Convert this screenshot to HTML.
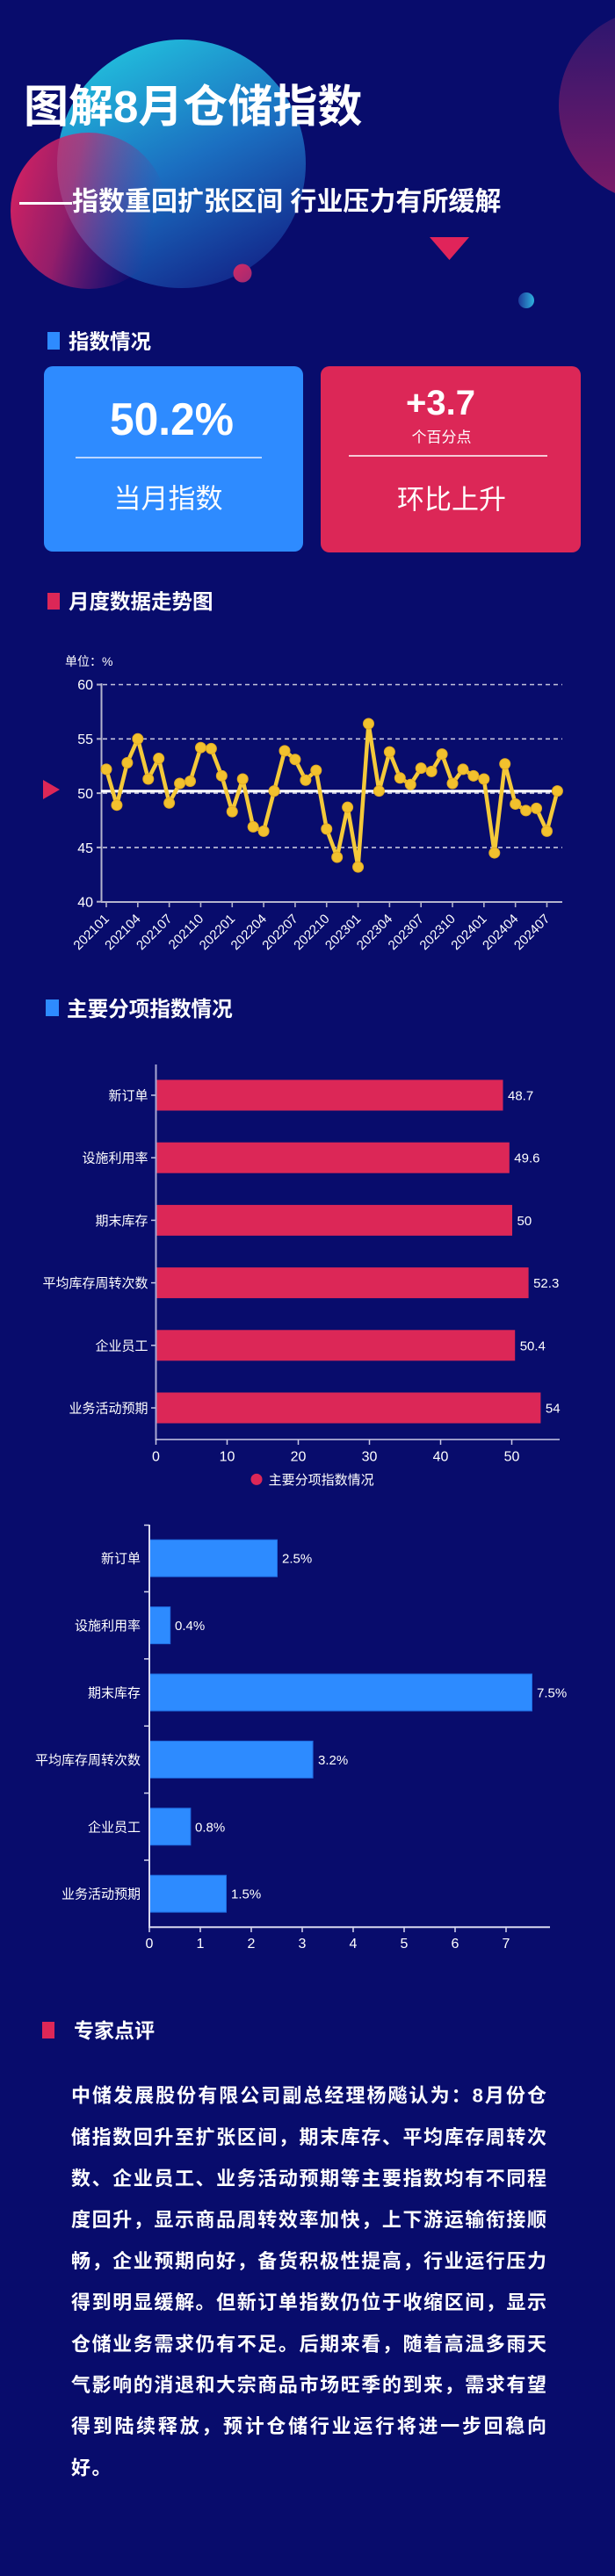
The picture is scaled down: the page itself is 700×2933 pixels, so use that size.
<!DOCTYPE html>
<html lang="zh">
<head>
<meta charset="utf-8">
<style>
  html,body{margin:0;padding:0;background:#080c6c;}
  body{width:700px;height:2933px;overflow:hidden;position:relative;}
  svg{position:absolute;left:0;top:0;display:block;}
  text{font-family:"Liberation Sans","Noto Sans CJK SC",sans-serif;fill:#fff;}
  .b{font-weight:bold;}
</style>
</head>
<body>
<svg width="700" height="2933" viewBox="0 0 700 2933" xmlns="http://www.w3.org/2000/svg">
  <defs>
    <linearGradient id="gc" x1="0.25" y1="0" x2="0.75" y2="1">
      <stop offset="0" stop-color="#22c0dd"/>
      <stop offset="0.5" stop-color="#1b6fc1"/>
      <stop offset="1" stop-color="#122488"/>
    </linearGradient>
    <linearGradient id="gp" x1="0" y1="0" x2="1" y2="0.25">
      <stop offset="0" stop-color="#de2260" stop-opacity="1"/>
      <stop offset="0.45" stop-color="#c8246a" stop-opacity="0.72"/>
      <stop offset="1" stop-color="#7a1e84" stop-opacity="0"/>
    </linearGradient>
    <linearGradient id="gr" x1="0" y1="0" x2="0" y2="1">
      <stop offset="0" stop-color="#2a166f"/>
      <stop offset="1" stop-color="#7c1a67"/>
    </linearGradient>
    <linearGradient id="gb" x1="0" y1="0" x2="1" y2="0">
      <stop offset="0" stop-color="#1c3a9a"/>
      <stop offset="1" stop-color="#2fb2de"/>
    </linearGradient>
    <linearGradient id="gs" x1="0" y1="0" x2="1" y2="1">
      <stop offset="0" stop-color="#d02a66"/>
      <stop offset="1" stop-color="#a02a72"/>
    </linearGradient>
  </defs>

  <rect x="0" y="0" width="700" height="2933" fill="#080c6c"/>

  <!-- decorations -->
  <circle cx="746" cy="120" r="110" fill="url(#gr)"/>
  <circle cx="206.5" cy="186.5" r="141.5" fill="url(#gc)"/>
  <circle cx="101" cy="240" r="89" fill="url(#gp)"/>
  <circle cx="276" cy="311" r="10.5" fill="url(#gs)"/>
  <polygon points="489,270 534,270 511.5,296" fill="#e0245a"/>
  <circle cx="599" cy="342" r="9" fill="url(#gb)"/>

  <!-- title -->
  <text class="b" x="27" y="139" font-size="51">图解8月仓储指数</text>
  <text class="b" x="22" y="239.5" font-size="30">——指数重回扩张区间 行业压力有所缓解</text>

  <!-- section: 指数情况 -->
  <rect x="54" y="378" width="14" height="20" fill="#2e8bff"/>
  <text class="b" x="78" y="397" font-size="23.5">指数情况</text>

  <rect x="50" y="417" width="295" height="211" rx="10" ry="10" fill="#2e8bff"/>
  <rect x="365" y="417" width="296" height="212" rx="10" ry="10" fill="#dc2757"/>

  <text class="b" x="125" y="495" font-size="52" textLength="141" lengthAdjust="spacingAndGlyphs">50.2%</text>
  <line x1="86" y1="521" x2="298" y2="521" stroke="#e8f0ff" stroke-width="1.5"/>
  <text x="191.5" y="578.5" font-size="31" text-anchor="middle">当月指数</text>

  <text class="b" x="501.5" y="472" font-size="40" text-anchor="middle">+3.7</text>
  <text x="502.5" y="503.5" font-size="17" text-anchor="middle">个百分点</text>
  <line x1="397" y1="519" x2="623" y2="519" stroke="#ffffff" stroke-width="1.5"/>
  <text x="514" y="579.5" font-size="31" text-anchor="middle">环比上升</text>

  <!-- section: 月度数据走势图 -->
  <rect x="54" y="675" width="14" height="19" fill="#dc2757"/>
  <text class="b" x="78" y="693" font-size="23.5">月度数据走势图</text>

  <!-- line chart -->
  <text x="74" y="758" font-size="14">单位：%</text>
  <g font-size="16" text-anchor="end">
    <text x="106" y="785">60</text>
    <text x="106" y="847">55</text>
    <text x="106" y="909">50</text>
    <text x="106" y="971">45</text>
    <text x="106" y="1032.5">40</text>
  </g>
  <g stroke="#c4c4dc" stroke-width="1.6" stroke-dasharray="5 4">
    <line x1="117" y1="779.5" x2="640" y2="779.5"/>
    <line x1="117" y1="841.3" x2="640" y2="841.3"/>
    <line x1="117" y1="903.1" x2="640" y2="903.1"/>
    <line x1="117" y1="964.9" x2="640" y2="964.9"/>
  </g>
  <g stroke="#b4b4cc" stroke-width="2">
    <line x1="115.5" y1="778" x2="115.5" y2="1027"/>
    <line x1="115" y1="1027" x2="640" y2="1027"/>
    <line x1="110" y1="779.5" x2="115" y2="779.5"/>
    <line x1="110" y1="841.3" x2="115" y2="841.3"/>
    <line x1="110" y1="903.1" x2="115" y2="903.1"/>
    <line x1="110" y1="964.9" x2="115" y2="964.9"/>
    <line x1="110" y1="1026.7" x2="115" y2="1026.7"/>
  </g>
  <g stroke="#b4b4cc" stroke-width="1.6">
    <line x1="121" y1="1027" x2="121" y2="1033"/>
    <line x1="156.82" y1="1027" x2="156.82" y2="1033"/>
    <line x1="192.64" y1="1027" x2="192.64" y2="1033"/>
    <line x1="228.46" y1="1027" x2="228.46" y2="1033"/>
    <line x1="264.28" y1="1027" x2="264.28" y2="1033"/>
    <line x1="300.1" y1="1027" x2="300.1" y2="1033"/>
    <line x1="335.92" y1="1027" x2="335.92" y2="1033"/>
    <line x1="371.74" y1="1027" x2="371.74" y2="1033"/>
    <line x1="407.56" y1="1027" x2="407.56" y2="1033"/>
    <line x1="443.38" y1="1027" x2="443.38" y2="1033"/>
    <line x1="479.2" y1="1027" x2="479.2" y2="1033"/>
    <line x1="515.02" y1="1027" x2="515.02" y2="1033"/>
    <line x1="550.84" y1="1027" x2="550.84" y2="1033"/>
    <line x1="586.66" y1="1027" x2="586.66" y2="1033"/>
    <line x1="622.48" y1="1027" x2="622.48" y2="1033"/>
  </g>
  <g font-size="15" text-anchor="end">
    <text transform="translate(125,1047) rotate(-45)">202101</text>
    <text transform="translate(160.82,1047) rotate(-45)">202104</text>
    <text transform="translate(196.64,1047) rotate(-45)">202107</text>
    <text transform="translate(232.46,1047) rotate(-45)">202110</text>
    <text transform="translate(268.28,1047) rotate(-45)">202201</text>
    <text transform="translate(304.1,1047) rotate(-45)">202204</text>
    <text transform="translate(339.92,1047) rotate(-45)">202207</text>
    <text transform="translate(375.74,1047) rotate(-45)">202210</text>
    <text transform="translate(411.56,1047) rotate(-45)">202301</text>
    <text transform="translate(447.38,1047) rotate(-45)">202304</text>
    <text transform="translate(483.2,1047) rotate(-45)">202307</text>
    <text transform="translate(519.02,1047) rotate(-45)">202310</text>
    <text transform="translate(554.84,1047) rotate(-45)">202401</text>
    <text transform="translate(590.66,1047) rotate(-45)">202404</text>
    <text transform="translate(626.48,1047) rotate(-45)">202407</text>
  </g>
  <line x1="115" y1="900.8" x2="640" y2="900.8" stroke="#ffffff" stroke-width="3.2"/>
  <polygon points="49,888 68,899 49,910" fill="#dc2757"/>
  <polyline fill="none" stroke="#f4c93a" stroke-width="4.5" stroke-linejoin="round" points="121,875.91 132.94,916.7 144.88,868.49 156.82,841.3 168.76,887.03 180.7,863.55 192.64,914.22 204.58,891.98 216.52,889.5 228.46,851.19 240.4,852.42 252.34,883.32 264.28,924.11 276.22,887.03 288.16,941.42 300.1,946.36 312.04,900.63 323.98,854.9 335.92,864.78 347.86,888.27 359.8,877.14 371.74,943.89 383.68,976.02 395.62,919.17 407.56,987.15 419.5,824 431.44,900.63 443.38,856.13 455.32,885.8 467.26,893.21 479.2,874.67 491.14,878.38 503.08,858.6 515.02,891.98 526.96,875.91 538.9,883.32 550.84,887.03 562.78,971.08 574.72,869.73 586.66,915.46 598.6,922.88 610.54,920.4 622.48,946.36 634.42,900.63"/>
  <g fill="#f2c12e" stroke="#e2aa22" stroke-width="1">
    <circle cx="121" cy="875.91" r="6"/><circle cx="132.94" cy="916.7" r="6"/><circle cx="144.88" cy="868.49" r="6"/><circle cx="156.82" cy="841.3" r="6"/><circle cx="168.76" cy="887.03" r="6"/><circle cx="180.7" cy="863.55" r="6"/><circle cx="192.64" cy="914.22" r="6"/><circle cx="204.58" cy="891.98" r="6"/><circle cx="216.52" cy="889.5" r="6"/><circle cx="228.46" cy="851.19" r="6"/><circle cx="240.4" cy="852.42" r="6"/><circle cx="252.34" cy="883.32" r="6"/><circle cx="264.28" cy="924.11" r="6"/><circle cx="276.22" cy="887.03" r="6"/><circle cx="288.16" cy="941.42" r="6"/><circle cx="300.1" cy="946.36" r="6"/><circle cx="312.04" cy="900.63" r="6"/><circle cx="323.98" cy="854.9" r="6"/><circle cx="335.92" cy="864.78" r="6"/><circle cx="347.86" cy="888.27" r="6"/><circle cx="359.8" cy="877.14" r="6"/><circle cx="371.74" cy="943.89" r="6"/><circle cx="383.68" cy="976.02" r="6"/><circle cx="395.62" cy="919.17" r="6"/><circle cx="407.56" cy="987.15" r="6"/><circle cx="419.5" cy="824" r="6"/><circle cx="431.44" cy="900.63" r="6"/><circle cx="443.38" cy="856.13" r="6"/><circle cx="455.32" cy="885.8" r="6"/><circle cx="467.26" cy="893.21" r="6"/><circle cx="479.2" cy="874.67" r="6"/><circle cx="491.14" cy="878.38" r="6"/><circle cx="503.08" cy="858.6" r="6"/><circle cx="515.02" cy="891.98" r="6"/><circle cx="526.96" cy="875.91" r="6"/><circle cx="538.9" cy="883.32" r="6"/><circle cx="550.84" cy="887.03" r="6"/><circle cx="562.78" cy="971.08" r="6"/><circle cx="574.72" cy="869.73" r="6"/><circle cx="586.66" cy="915.46" r="6"/><circle cx="598.6" cy="922.88" r="6"/><circle cx="610.54" cy="920.4" r="6"/><circle cx="622.48" cy="946.36" r="6"/><circle cx="634.42" cy="900.63" r="6"/>
  </g>

  <!-- section: 主要分项指数情况 -->
  <rect x="52" y="1138" width="15" height="19" fill="#2e8bff"/>
  <text class="b" x="76" y="1157" font-size="23.6">主要分项指数情况</text>

  <!-- bar chart 1 -->
  <g fill="#dc2757">
    <rect x="178" y="1229.5" width="394.5" height="35"/>
    <rect x="178" y="1300.7" width="401.8" height="35"/>
    <rect x="178" y="1371.9" width="405" height="35"/>
    <rect x="178" y="1443.1" width="423.6" height="35"/>
    <rect x="178" y="1514.3" width="408.2" height="35"/>
    <rect x="178" y="1585.5" width="437.4" height="35"/>
  </g>
  <line x1="177.5" y1="1212" x2="177.5" y2="1640" stroke="#a8a8d4" stroke-width="2"/>
  <line x1="177" y1="1639" x2="637" y2="1639" stroke="#c8c8e4" stroke-width="1.6"/>
  <g stroke="#c8c8e4" stroke-width="1.5">
    <line x1="172" y1="1247" x2="177" y2="1247"/>
    <line x1="172" y1="1318.2" x2="177" y2="1318.2"/>
    <line x1="172" y1="1389.4" x2="177" y2="1389.4"/>
    <line x1="172" y1="1460.6" x2="177" y2="1460.6"/>
    <line x1="172" y1="1531.8" x2="177" y2="1531.8"/>
    <line x1="172" y1="1603" x2="177" y2="1603"/>
    <line x1="177.5" y1="1639" x2="177.5" y2="1645"/>
    <line x1="258.5" y1="1639" x2="258.5" y2="1645"/>
    <line x1="339.5" y1="1639" x2="339.5" y2="1645"/>
    <line x1="420.5" y1="1639" x2="420.5" y2="1645"/>
    <line x1="501.5" y1="1639" x2="501.5" y2="1645"/>
    <line x1="582.5" y1="1639" x2="582.5" y2="1645"/>
  </g>
  <g font-size="15" text-anchor="end">
    <text x="168.5" y="1252.5">新订单</text>
    <text x="168.5" y="1323.7">设施利用率</text>
    <text x="168.5" y="1394.9">期末库存</text>
    <text x="168.5" y="1466.1">平均库存周转次数</text>
    <text x="168.5" y="1537.3">企业员工</text>
    <text x="168.5" y="1608.5">业务活动预期</text>
  </g>
  <g font-size="15">
    <text x="578" y="1252.5">48.7</text>
    <text x="585.3" y="1323.7">49.6</text>
    <text x="588.5" y="1394.9">50</text>
    <text x="607.1" y="1466.1">52.3</text>
    <text x="591.7" y="1537.3">50.4</text>
    <text x="620.9" y="1608.5">54</text>
  </g>
  <g font-size="16" text-anchor="middle">
    <text x="177.5" y="1663.5">0</text>
    <text x="258.5" y="1663.5">10</text>
    <text x="339.5" y="1663.5">20</text>
    <text x="420.5" y="1663.5">30</text>
    <text x="501.5" y="1663.5">40</text>
    <text x="582.5" y="1663.5">50</text>
  </g>
  <circle cx="292" cy="1684.4" r="6.5" fill="#dc2757"/>
  <text x="305.6" y="1690" font-size="15">主要分项指数情况</text>

  <!-- bar chart 2 -->
  <g fill="#2d8bff" stroke="#1f6ce0" stroke-width="1">
    <rect x="170.5" y="1753.2" width="145" height="42"/>
    <rect x="170.5" y="1829.6" width="23.2" height="42"/>
    <rect x="170.5" y="1906" width="435" height="42"/>
    <rect x="170.5" y="1982.4" width="185.6" height="42"/>
    <rect x="170.5" y="2058.8" width="46.4" height="42"/>
    <rect x="170.5" y="2135.2" width="87" height="42"/>
  </g>
  <line x1="170" y1="1736" x2="170" y2="2195" stroke="#d8d8ee" stroke-width="2"/>
  <line x1="169" y1="2194.3" x2="626" y2="2194.3" stroke="#d8d8ee" stroke-width="2"/>
  <g stroke="#d8d8ee" stroke-width="1.5">
    <line x1="164" y1="1736.5" x2="170" y2="1736.5"/>
    <line x1="164" y1="1812.4" x2="170" y2="1812.4"/>
    <line x1="164" y1="1888.8" x2="170" y2="1888.8"/>
    <line x1="164" y1="1965.2" x2="170" y2="1965.2"/>
    <line x1="164" y1="2041.6" x2="170" y2="2041.6"/>
    <line x1="164" y1="2118" x2="170" y2="2118"/>
    <line x1="228" y1="2194" x2="228" y2="2200"/>
    <line x1="286" y1="2194" x2="286" y2="2200"/>
    <line x1="344" y1="2194" x2="344" y2="2200"/>
    <line x1="402" y1="2194" x2="402" y2="2200"/>
    <line x1="460" y1="2194" x2="460" y2="2200"/>
    <line x1="518" y1="2194" x2="518" y2="2200"/>
    <line x1="576" y1="2194" x2="576" y2="2200"/>
    <line x1="170" y1="2194" x2="170" y2="2200"/>
  </g>
  <g font-size="15" text-anchor="end">
    <text x="160" y="1779.7">新订单</text>
    <text x="160" y="1856.1">设施利用率</text>
    <text x="160" y="1932.5">期末库存</text>
    <text x="160" y="2008.9">平均库存周转次数</text>
    <text x="160" y="2085.3">企业员工</text>
    <text x="160" y="2161.7">业务活动预期</text>
  </g>
  <g font-size="15">
    <text x="321" y="1779.7">2.5%</text>
    <text x="199" y="1856.1">0.4%</text>
    <text x="611" y="1932.5">7.5%</text>
    <text x="362" y="2008.9">3.2%</text>
    <text x="222" y="2085.3">0.8%</text>
    <text x="263" y="2161.7">1.5%</text>
  </g>
  <g font-size="16" text-anchor="middle">
    <text x="170" y="2218">0</text>
    <text x="228" y="2218">1</text>
    <text x="286" y="2218">2</text>
    <text x="344" y="2218">3</text>
    <text x="402" y="2218">4</text>
    <text x="460" y="2218">5</text>
    <text x="518" y="2218">6</text>
    <text x="576" y="2218">7</text>
  </g>

  <!-- section: 专家点评 -->
  <rect x="48" y="2302" width="14" height="19" fill="#dc2757"/>
  <text class="b" x="84" y="2320" font-size="23">专家点评</text>

  <g class="b" font-size="22" font-weight="bold">
    <text x="81" y="2393.7" textLength="541" lengthAdjust="spacing">中储发展股份有限公司副总经理杨飚认为：8月份仓</text>
    <text x="81" y="2440.8" textLength="541" lengthAdjust="spacing">储指数回升至扩张区间，期末库存、平均库存周转次</text>
    <text x="81" y="2487.9" textLength="541" lengthAdjust="spacing">数、企业员工、业务活动预期等主要指数均有不同程</text>
    <text x="81" y="2534.9" textLength="541" lengthAdjust="spacing">度回升，显示商品周转效率加快，上下游运输衔接顺</text>
    <text x="81" y="2582" textLength="541" lengthAdjust="spacing">畅，企业预期向好，备货积极性提高，行业运行压力</text>
    <text x="81" y="2629" textLength="541" lengthAdjust="spacing">得到明显缓解。但新订单指数仍位于收缩区间，显示</text>
    <text x="81" y="2676.3" textLength="541" lengthAdjust="spacing">仓储业务需求仍有不足。后期来看，随着高温多雨天</text>
    <text x="81" y="2723.1" textLength="541" lengthAdjust="spacing">气影响的消退和大宗商品市场旺季的到来，需求有望</text>
    <text x="81" y="2770.1" textLength="541" lengthAdjust="spacing">得到陆续释放，预计仓储行业运行将进一步回稳向</text>
    <text x="81" y="2817.4" letter-spacing="1.5">好。</text>
  </g>
</svg>
</body>
</html>
